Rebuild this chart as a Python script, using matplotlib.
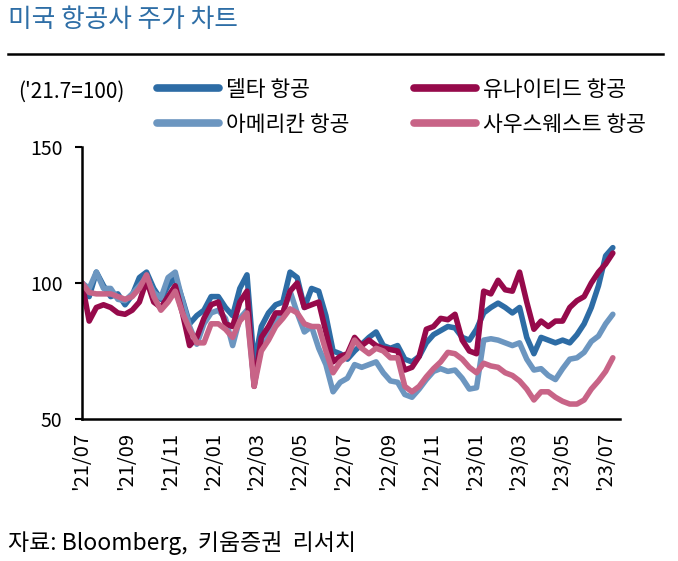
import numpy as np
import pandas as pd
import matplotlib
matplotlib.use('Agg')
from matplotlib import pyplot as plt
from matplotlib.lines import Line2D
import matplotlib.dates as mdates

plt.rcParams['font.family'] = ['Noto Sans CJK KR', 'DejaVu Sans']

dates = pd.date_range('2021-07-01', periods=75, freq='10D')

delta = [100, 95, 104, 99, 95, 96, 92, 95.5, 102, 104, 98, 94, 99, 102, 94, 85, 88, 90, 95, 95,
         91, 88, 98, 103, 70, 84, 89, 92, 93, 104, 102, 91, 98, 97, 88, 75, 74, 72, 75, 77.5,
         80, 82, 77, 76, 77, 72, 71, 73, 78, 81, 82.5, 84, 83.5, 80, 79, 83, 89, 91, 92.6, 91,
         89, 91, 80, 74, 80, 79, 78, 79, 78, 81, 85, 91, 99, 110, 113]
united = [100, 86, 91, 92, 91, 89, 88.5, 90, 93, 101, 93, 91, 95, 99, 89, 77, 80, 87, 92, 93,
          85, 84, 93, 97, 62, 80, 84, 89, 89, 97, 100, 91, 92, 93, 82, 71, 73, 74, 80, 77,
          79, 77, 76, 75.5, 75, 68, 69, 73, 83, 84, 87, 86.5, 88.5, 79, 75, 74, 97, 96, 101, 97.5,
          97, 104, 93, 83, 86, 84, 86, 86, 91, 93.5, 95, 100, 104, 107, 111]
american = [100, 98, 104, 98, 98, 94, 93.5, 96, 99, 102, 96.5, 94.5, 102, 104, 93.5, 84, 77.5, 85, 89, 90,
            87, 77, 87, 90, 63, 77, 81, 85.5, 89, 97, 89, 82, 84, 76, 70, 60, 63.5, 65, 70, 69,
            70, 71, 67, 64, 63.5, 59, 58, 61, 64.5, 67.5, 68.5, 67.5, 68, 65, 61, 61.5, 79, 79.5, 79, 78,
            77, 78, 72, 68, 68.5, 66, 64.5, 68.5, 72, 72.5, 74.5, 78.5, 80.5, 85, 88.5]
southwest = [100, 96.5, 96, 96, 96, 95, 94, 95, 98, 103, 95, 90, 93, 97, 89, 83, 78, 78, 85, 85,
             83, 80, 86, 89, 62, 75, 79, 84, 87, 90.5, 89, 85, 84, 84, 75, 67, 71, 73, 79, 76,
             74, 76, 75, 72.5, 72.5, 62, 60, 62, 65.5, 68.5, 71, 74.5, 74, 72, 69, 67, 70.5, 69.5, 69, 67,
             66, 64, 61, 57, 60, 60, 58, 56.5, 55.5, 55.5, 57, 61, 64, 67.5, 72.5]

labels = ['델타 항공', '아메리칸 항공', '유나이티드 항공', '사우스웨스트 항공']
colors = ['#2D6CA5', '#6C96C0', '#960A4B', '#C86487']
tick_dates = pd.date_range('2021-07-01', '2023-07-01', freq='2MS')

fig = plt.figure(figsize=(6.78, 5.61), dpi=100)
ax = fig.add_axes([82/678, 1 - 419/561, (620 - 82)/678, (419 - 147)/561])

lines = []
for series, lab, col in zip([delta, american, united, southwest], labels, colors):
    l, = ax.plot(dates, series, color=col, lw=4, label=lab, solid_capstyle='round')
    lines.append(l)

ax.set_ylim(50, 150)
ax.set_yticks([50, 100, 150])
ax.set_xlim(pd.Timestamp('2021-07-01'), pd.Timestamp('2023-07-21'))
ax.set_xticks(tick_dates)
ax.xaxis.set_major_formatter(mdates.DateFormatter("'%y/%m"))
ax.tick_params(axis='x', length=0, pad=9, labelsize=14.5, labelrotation=90)
ax.tick_params(axis='y', length=5, width=1.5, pad=9, labelsize=14, direction='out')
for s in ['top', 'right']:
    ax.spines[s].set_visible(False)
for s in ['left', 'bottom']:
    ax.spines[s].set_linewidth(1.8)

fig.text(8/678, 1 - 20/561, '미국 항공사 주가 차트', fontsize=18.5, color='#2E6EA6', va='center')
fig.add_artist(Line2D([8/678, 663/678], [1 - 54/561, 1 - 54/561], lw=1.8, color='black'))
fig.text(18/678, 1 - 92/561, "('21.7=100)", fontsize=15, va='center')
fig.text(8/678, 1 - 543/561, '자료: Bloomberg,  키움증권  리서치', fontsize=16.5, va='center')

leg = fig.legend(handles=[lines[0], lines[1], lines[2], lines[3]], ncol=2, frameon=False,
                 loc='upper left', bbox_to_anchor=(157/678, 1 - 79/561), fontsize=15.5,
                 handlelength=2.9, handletextpad=0.3, columnspacing=3.0, labelspacing=0.6,
                 borderpad=0, borderaxespad=0)
for h in leg.legend_handles:
    h.set_linewidth(5.5)

fig.savefig('out.png', dpi=100)
